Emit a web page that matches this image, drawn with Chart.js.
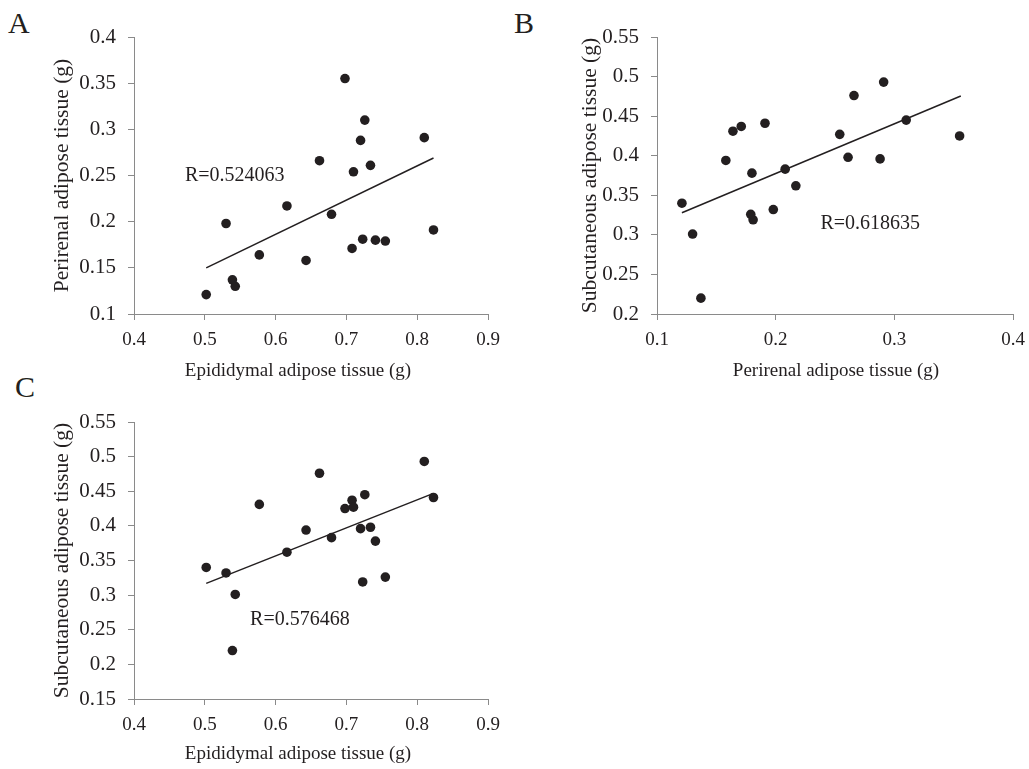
<!DOCTYPE html>
<html><head><meta charset="utf-8">
<script src="https://cdn.jsdelivr.net/npm/chart.js@4.4.1/dist/chart.umd.min.js"></script>
<style>
html,body{margin:0;padding:0;background:#fff;}
body{width:1029px;height:769px;position:relative;overflow:hidden;}
canvas{position:absolute;}
.lbl{position:absolute;font-family:'Liberation Serif','Times New Roman',serif;font-size:30px;line-height:30px;color:#231f20;}
</style></head><body>
<div class="lbl" style="left:8px;top:8px">A</div>
<div class="lbl" style="left:514px;top:8px">B</div>
<div class="lbl" style="left:15px;top:372px">C</div>
<canvas id="cA" width="520" height="385" style="left:0;top:0"></canvas>
<canvas id="cB" width="540" height="385" style="left:520px;top:0"></canvas>
<canvas id="cC" width="520" height="384" style="left:0;top:385px"></canvas>
<script>
// Tissue weights (g) for 20 animals
const epididymal   = [0.502, 0.530, 0.539, 0.543, 0.577, 0.616, 0.643, 0.662, 0.679, 0.698, 0.708, 0.710, 0.720, 0.723, 0.726, 0.734, 0.741, 0.755, 0.810, 0.823];
const perirenal    = [0.121, 0.198, 0.137, 0.130, 0.164, 0.217, 0.158, 0.266, 0.208, 0.355, 0.171, 0.254, 0.288, 0.181, 0.310, 0.261, 0.180, 0.179, 0.291, 0.191];
const subcutaneous = [0.340, 0.332, 0.220, 0.301, 0.431, 0.362, 0.394, 0.476, 0.383, 0.425, 0.437, 0.427, 0.396, 0.319, 0.445, 0.398, 0.378, 0.326, 0.493, 0.441];

// Trend line end points
const trendAx = [0.502, 0.823], trendAy = [0.150, 0.269];
const trendBx = [0.121, 0.356], trendBy = [0.328, 0.4755];
const trendCx = [0.502, 0.823], trendCy = [0.317, 0.447];

// Correlation labels
const labelA = 'R=0.524063', labelB = 'R=0.618635', labelC = 'R=0.576468';

// Tick values
const ticksEpi   = [0.4, 0.5, 0.6, 0.7, 0.8, 0.9];
const ticksPeriY = [0.1, 0.15, 0.2, 0.25, 0.3, 0.35, 0.4];
const ticksPeriX = [0.1, 0.2, 0.3, 0.4];
const ticksSubB  = [0.2, 0.25, 0.3, 0.35, 0.4, 0.45, 0.5, 0.55];
const ticksSubC  = [0.15, 0.2, 0.25, 0.3, 0.35, 0.4, 0.45, 0.5, 0.55];

const titleEpi = 'Epididymal adipose tissue (g)';
const titlePeri = 'Perirenal adipose tissue (g)';
const titleSub = 'Subcutaneous adipose tissue (g)';

const INK = '#231f20', AXIS = '#8a8a8a', FONT = "'Liberation Serif','Times New Roman',serif";
Chart.defaults.font.family = FONT;
Chart.defaults.font.size = 19;
Chart.defaults.color = INK;

function pts(xs, ys){ return xs.map((x,i)=>({x:x, y:ys[i]})); }

function axis(ticks, title, fitKey, fitVal, pad, tickSize, titleSize, showTitle){
  return {
    type:'linear', min: ticks[0], max: ticks[ticks.length-1],
    afterBuildTicks: s => { s.ticks = ticks.map(v=>({value:v})); },
    afterFit: s => { s[fitKey] = fitVal; },
    ticks:{ padding: pad, color: INK, font:{size:tickSize, family:FONT}, callback: v => String(v) },
    grid:{ drawOnChartArea:false, drawTicks:true, tickLength:6, color:AXIS, lineWidth:1 },
    border:{ display:true, color:AXIS, width:1 },
    title:{ display:showTitle, text:title, color:INK, font:{size:titleSize, family:FONT}, padding:0 }
  };
}

function make(id, xs, ys, tx, ty, xt, yt, xTitle, yTitle, cfg){
  const textPlugin = {
    id:'texts',
    afterDatasetsDraw(chart){
      const c = chart.ctx, sx = chart.scales.x, sy = chart.scales.y;
      c.save();
      c.fillStyle = INK;
      // correlation label
      c.font = '20px ' + FONT;
      c.textAlign = 'left'; c.textBaseline = 'alphabetic';
      c.fillText(cfg.label, sx.getPixelForValue(cfg.lx), sy.getPixelForValue(cfg.ly));
      // x-axis title
      c.font = '19px ' + FONT;
      c.textAlign = 'center'; c.textBaseline = 'middle';
      c.fillText(xTitle, (sx.left + sx.right) / 2 + cfg.xShift, sx.bottom - 11.4);
      c.restore();
    }
  };
  new Chart(document.getElementById(id), {
    type:'scatter',
    data:{ datasets:[
      { data: pts(xs, ys), pointRadius:4.8, pointHoverRadius:4.8, backgroundColor:INK, borderWidth:0 },
      { type:'line', data: pts(tx, ty), showLine:true, pointRadius:0, borderColor:INK, borderWidth:1.5, fill:false }
    ]},
    options:{
      responsive:false, animation:false, devicePixelRatio:1,
      layout:{ padding:{ left:cfg.pl, right:cfg.pr, top:37, bottom:cfg.pb } },
      plugins:{ legend:{display:false}, tooltip:{enabled:false} },
      scales:{
        x: axis(xt, xTitle, 'height', cfg.xh, 9, 19, 19, false),
        y: axis(yt, yTitle, 'width', cfg.yw, 12, 21, 21.5, true)
      }
    },
    plugins:[textPlugin]
  });
}

make('cA', epididymal, perirenal, trendAx, trendAy, ticksEpi, ticksPeriY, titleEpi, titlePeri,
  {pl:49, yw:85, pr:32, xh:68, pb:3, xShift:-13, label:labelA, lx:0.472, ly:0.244});
make('cB', perirenal, subcutaneous, trendBx, trendBy, ticksPeriX, ticksSubB, titlePeri, titleSub,
  {pl:57, yw:80, pr:47, xh:68, pb:3, xShift:1, label:labelB, lx:0.2377, ly:0.307});
make('cC', epididymal, subcutaneous, trendCx, trendCy, ticksEpi, ticksSubC, titleEpi, titleSub,
  {pl:49, yw:85, pr:32, xh:66, pb:4, xShift:-13, label:labelC, lx:0.564, ly:0.257});
</script>
</body></html>
